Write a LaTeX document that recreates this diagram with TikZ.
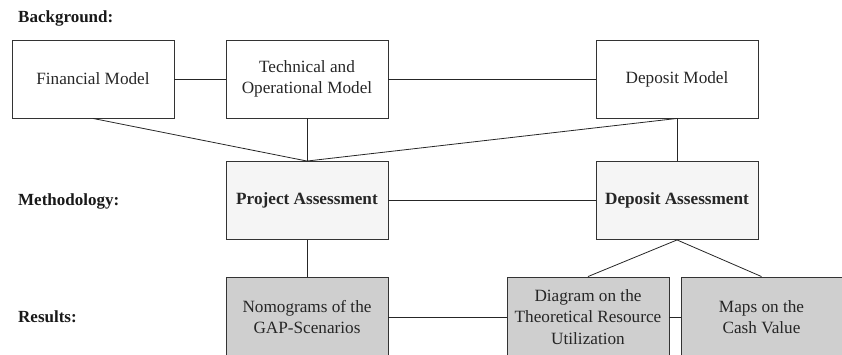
\documentclass[tikz,border=0pt]{standalone}
\usepackage{fontspec}
\setmainfont{Liberation Serif}
\begin{document}
\begin{tikzpicture}[x=1pt,y=-1pt,
  box/.style={draw=black!80,line width=0.9pt,minimum width=162pt,minimum height=78pt,inner sep=0pt,align=center,font=\fontsize{17.2}{21.5}\selectfont,text=black!85},
  method/.style={box,fill=black!4,font=\fontsize{17.2}{21.5}\selectfont\bfseries},
  result/.style={box,fill=black!19,minimum height=80pt},
  lbl/.style={anchor=base west,inner sep=0pt,font=\fontsize{17}{20}\selectfont\bfseries,text=black!90},
  conn/.style={draw=black!85,line width=0.8pt}]
\useasboundingbox (0,0) rectangle (842,355);
\node[lbl] (lb) at (18,23) {Background:};
\node[lbl] (lm) at (18,206) {Methodology:};
\node[lbl] (lr) at (18,322) {Results:};
\node[box] (fin) at (93,79) {Financial Model};
\node[box] (tech) at (307,79) {Technical and\\Operational Model};
\node[box] (dep) at (677,79) {Deposit Model};
\node[method] (pa) at (307,200.5) {Project Assessment};
\node[method] (da) at (677,200.5) {Deposit Assessment};
\node[result] (nom) at (307,317) {Nomograms of the\\GAP-Scenarios};
\node[result] (dia) at (588,317) {Diagram on the\\Theoretical Resource\\Utilization};
\node[result,minimum width=161pt] (maps) at (761.5,317) {Maps on the\\Cash Value};
\draw[conn] (fin) -- (tech);
\draw[conn] (tech) -- (dep);
\draw[conn] (fin.south) -- (pa.north);
\draw[conn] (tech) -- (pa);
\draw[conn] (dep.south) -- (pa.north);
\draw[conn] (dep) -- (da);
\draw[conn] (pa) -- (da);
\draw[conn] (pa) -- (nom);
\draw[conn] (da.south) -- (dia.north);
\draw[conn] (da.south) -- (maps.north);
\draw[conn] (nom) -- (dia);
\draw[conn] (dia) -- (maps);
\end{tikzpicture}
\end{document}
